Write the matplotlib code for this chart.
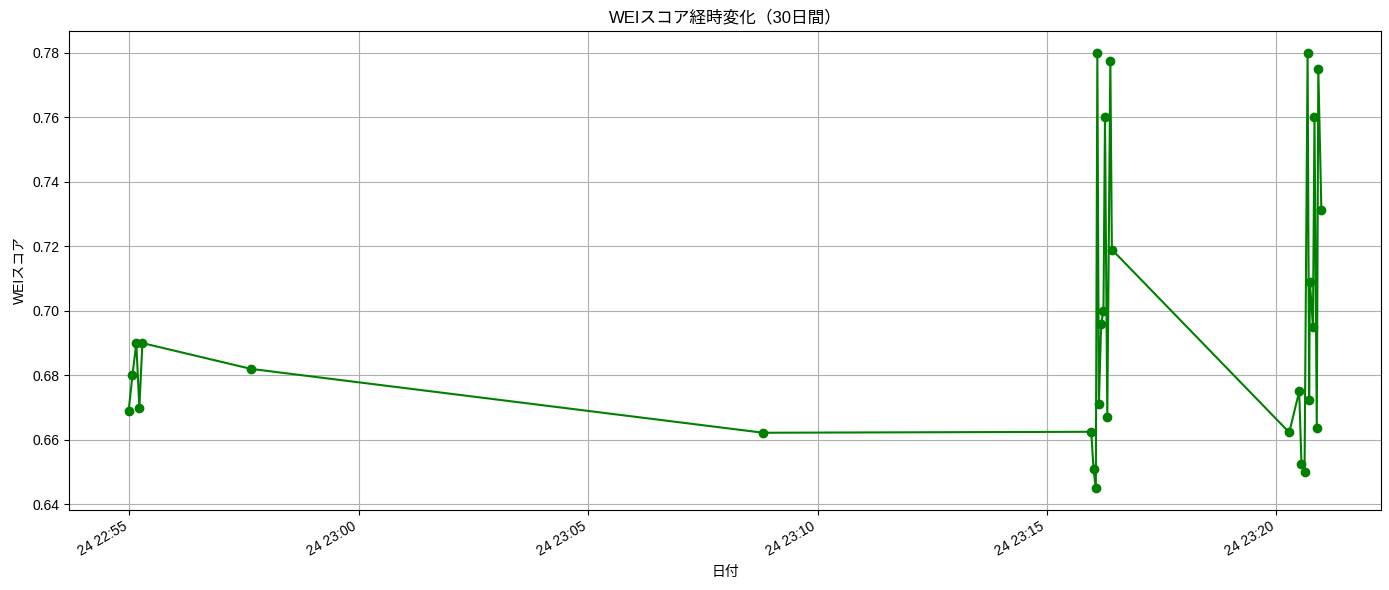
import matplotlib
matplotlib.use("Agg")
import matplotlib.pyplot as plt
import pandas as pd

plt.rcParams['font.family'] = ['Liberation Sans', 'Noto Sans CJK JP', 'DejaVu Sans']

times = [
    "22:54:59", "22:55:04", "22:55:09", "22:55:13", "22:55:17",
    "22:57:39", "23:08:49",
    "23:15:58", "23:16:01", "23:16:04", "23:16:06", "23:16:08", "23:16:11",
    "23:16:14", "23:16:16", "23:16:19", "23:16:23", "23:16:25",
    "23:20:17", "23:20:30", "23:20:33", "23:20:37", "23:20:41", "23:20:43",
    "23:20:44", "23:20:48", "23:20:50", "23:20:53", "23:20:55", "23:20:59",
]
scores = [
    0.669, 0.680, 0.690, 0.670, 0.690,
    0.682, 0.6622,
    0.6625, 0.651, 0.645, 0.780, 0.671, 0.696,
    0.700, 0.760, 0.667, 0.7775, 0.719,
    0.6623, 0.675, 0.6525, 0.650, 0.780, 0.6725,
    0.709, 0.695, 0.760, 0.6637, 0.775, 0.7313,
]

dates = pd.to_datetime(["2025-01-24 " + t for t in times])

fig, ax = plt.subplots(figsize=(13.89, 5.9), dpi=100)
ax.plot(dates, scores, marker='o', linestyle='-', color='green')
ax.set_title("WEIスコア経時変化（30日間）")
ax.set_xlabel("日付")
ax.set_ylabel("WEIスコア")
ax.grid(True)
fig.autofmt_xdate()
fig.subplots_adjust(left=69/1389, right=1381/1389, top=1-31/590, bottom=1-510/590)
fig.savefig("out.png", dpi=100)
